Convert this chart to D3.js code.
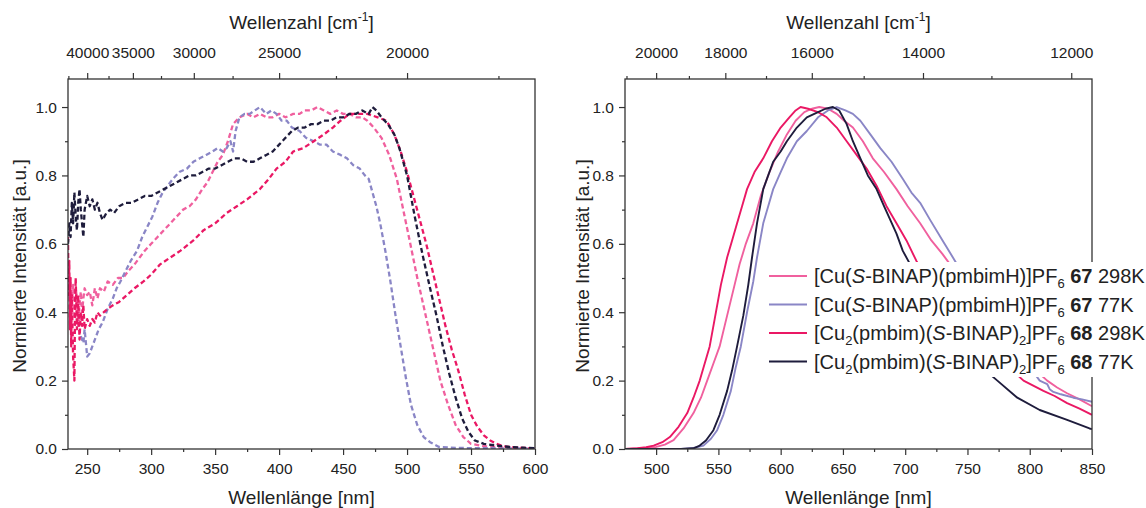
<!DOCTYPE html>
<html><head><meta charset="utf-8">
<script src="https://cdn.jsdelivr.net/npm/d3@7"></script>
<style>
body{margin:0;background:#fff}
svg text{font-family:"Liberation Sans",Arial,Helvetica,sans-serif;fill:#222}
</style></head>
<body><svg id="c" width="1146" height="508"></svg>
<script>
// ---------- DATA ----------
const seriesNames = ["67 298K","67 77K","68 298K","68 77K"];
const seriesColors = ["#f0609e","#8a86c6","#ea1864","#1e1c3c"];

// Absorption / excitation (left panel, dashed): [wavelength nm, normalized intensity]
const abs67rt = [[238,0.42],[239,0.48],[240,0.38],[241,0.47],[242,0.44],[243,0.36],[244,0.42],[245,0.46],[246,0.40],[247,0.44],[248,0.47],[250,0.45],[252,0.46],[254,0.42],[256,0.47],[258,0.44],[260,0.47],[263,0.46],[266,0.49],[270,0.48],[274,0.50],[278,0.50],[282,0.52],[287,0.54],[291,0.56],[295,0.58],[300,0.60],[305,0.62],[310,0.64],[315,0.66],[320,0.68],[325,0.70],[330,0.71],[335,0.73],[340,0.76],[344,0.78],[348,0.81],[352,0.84],[356,0.86],[360,0.90],[364,0.95],[369,0.97],[375,0.98],[380,0.97],[385,0.98],[390,0.97],[395,0.97],[400,0.98],[405,0.97],[411,0.98],[416,0.98],[420,0.99],[425,0.99],[430,1.0],[435,0.99],[440,0.98],[445,0.99],[450,0.98],[455,0.98],[460,0.97],[465,0.97],[469,0.96],[474,0.94],[480,0.91],[486,0.86],[492,0.79],[497,0.70],[502,0.61],[508,0.50],[514,0.40],[520,0.30],[526,0.20],[532,0.13],[538,0.07],[544,0.035],[550,0.015],[560,0.008],[580,0.004],[600,0.002]];
const abs67lt = [[245,0.33],[247,0.31],[248,0.35],[250,0.27],[252,0.28],[254,0.30],[256,0.32],[259,0.35],[262,0.37],[266,0.41],[270,0.44],[273,0.47],[276,0.49],[280,0.52],[284,0.55],[289,0.58],[293,0.62],[297,0.65],[301,0.68],[305,0.72],[309,0.75],[313,0.77],[317,0.79],[322,0.81],[328,0.82],[333,0.84],[338,0.85],[343,0.86],[348,0.87],[352,0.88],[356,0.87],[359,0.88],[362,0.90],[364,0.87],[366,0.93],[369,0.97],[373,0.98],[377,0.98],[381,0.99],[385,1.0],[390,0.98],[394,0.99],[398,0.98],[402,0.96],[406,0.96],[410,0.94],[416,0.93],[421,0.91],[427,0.90],[432,0.89],[437,0.89],[442,0.87],[448,0.86],[453,0.85],[458,0.83],[463,0.82],[467,0.80],[470,0.79],[473,0.75],[476,0.71],[479,0.66],[483,0.58],[487,0.49],[491,0.39],[495,0.30],[499,0.21],[503,0.13],[508,0.07],[513,0.035],[518,0.02],[525,0.006],[540,0.003],[600,0.001]];
const abs68rt = [[235,0.62],[235.5,0.45],[236,0.55],[236.5,0.35],[237,0.50],[237.5,0.30],[238,0.45],[239,0.27],[240,0.20],[240.5,0.42],[241,0.50],[242,0.35],[243,0.45],[244,0.32],[245,0.40],[246,0.36],[247,0.42],[248,0.35],[250,0.38],[252,0.36],[254,0.38],[256,0.37],[258,0.40],[260,0.39],[263,0.40],[266,0.41],[270,0.42],[275,0.43],[281,0.45],[287,0.47],[294,0.49],[300,0.51],[307,0.54],[315,0.56],[323,0.58],[333,0.61],[341,0.64],[350,0.66],[359,0.69],[367,0.71],[375,0.73],[385,0.76],[392,0.79],[398,0.82],[405,0.84],[411,0.87],[419,0.88],[427,0.90],[435,0.92],[442,0.94],[448,0.96],[455,0.98],[462,0.98],[469,0.98],[477,0.97],[484,0.96],[490,0.92],[495,0.87],[500,0.81],[505,0.74],[510,0.67],[515,0.60],[520,0.52],[525,0.44],[530,0.36],[535,0.29],[540,0.23],[545,0.16],[550,0.10],[555,0.065],[560,0.04],[565,0.025],[570,0.015],[575,0.008],[585,0.004],[600,0.002]];
const abs68lt = [[235,0.60],[236,0.66],[237,0.62],[238,0.72],[239,0.66],[240,0.75],[241,0.68],[242,0.64],[243,0.72],[244,0.76],[245,0.70],[246,0.66],[247,0.62],[248,0.70],[250,0.74],[252,0.71],[254,0.73],[256,0.70],[258,0.72],[260,0.69],[262,0.67],[265,0.69],[268,0.70],[271,0.69],[275,0.71],[280,0.72],[285,0.72],[290,0.73],[295,0.74],[300,0.74],[305,0.75],[310,0.76],[315,0.77],[320,0.78],[325,0.79],[330,0.80],[335,0.80],[340,0.81],[345,0.82],[350,0.82],[355,0.83],[360,0.84],[365,0.85],[370,0.85],[375,0.84],[380,0.84],[385,0.85],[390,0.86],[395,0.87],[400,0.89],[405,0.91],[410,0.93],[415,0.94],[420,0.94],[425,0.95],[430,0.95],[435,0.96],[440,0.96],[445,0.97],[450,0.97],[455,0.98],[460,0.98],[465,0.99],[470,0.98],[473,1.0],[476,0.99],[480,0.97],[485,0.95],[490,0.92],[494,0.88],[500,0.80],[506,0.68],[512,0.57],[518,0.47],[523,0.39],[528,0.30],[533,0.22],[538,0.15],[543,0.09],[548,0.05],[553,0.025],[560,0.015],[570,0.01],[580,0.006],[590,0.004],[600,0.002]];

// Emission (right panel, solid)
const em67rt = [[475,0],[490,0.002],[500,0.006],[507,0.013],[514,0.026],[522,0.06],[530,0.105],[536,0.15],[541,0.2],[546,0.25],[551,0.3],[555,0.36],[559,0.42],[563,0.48],[567,0.54],[572,0.60],[578,0.66],[584,0.74],[591,0.81],[598,0.87],[605,0.92],[612,0.96],[619,0.985],[625,0.995],[631,1.0],[638,0.995],[645,0.98],[651,0.96],[658,0.94],[666,0.90],[674,0.85],[683,0.81],[693,0.76],[702,0.71],[712,0.66],[721,0.61],[730,0.57],[740,0.52],[750,0.47],[760,0.42],[770,0.37],[780,0.32],[790,0.28],[802,0.24],[814,0.2],[822,0.18],[830,0.163],[840,0.145],[850,0.125]];
const em67lt = [[475,0],[520,0],[530,0.003],[538,0.01],[544,0.03],[549,0.055],[554,0.1],[560,0.17],[564,0.24],[568,0.3],[573,0.4],[578,0.49],[581,0.56],[586,0.66],[590,0.71],[594,0.76],[600,0.81],[605,0.85],[613,0.90],[621,0.93],[630,0.97],[638,0.99],[645,1.0],[652,0.99],[658,0.98],[664,0.96],[672,0.92],[680,0.88],[689,0.84],[698,0.79],[705,0.75],[712,0.72],[720,0.67],[730,0.61],[740,0.55],[750,0.49],[760,0.44],[770,0.39],[780,0.34],[790,0.29],[800,0.24],[808,0.20],[814,0.19],[816,0.175],[819,0.167],[825,0.16],[835,0.15],[842,0.145],[850,0.138]];
const em68rt = [[475,0],[485,0.002],[492,0.005],[498,0.01],[505,0.02],[511,0.035],[518,0.065],[525,0.105],[530,0.15],[535,0.2],[539,0.25],[543,0.3],[547,0.38],[552,0.48],[557,0.56],[561,0.61],[565,0.66],[569,0.71],[573,0.76],[579,0.81],[586,0.85],[593,0.90],[600,0.94],[607,0.97],[612,0.99],[616,1.0],[622,0.995],[630,0.985],[637,0.97],[645,0.94],[653,0.90],[661,0.86],[669,0.82],[677,0.77],[685,0.71],[693,0.66],[701,0.61],[709,0.55],[720,0.49],[735,0.42],[750,0.36],[765,0.30],[780,0.25],[795,0.20],[811,0.17],[820,0.155],[830,0.134],[840,0.118],[850,0.10]];
const em68lt = [[475,0],[520,0],[530,0.002],[535,0.01],[540,0.025],[546,0.055],[551,0.1],[557,0.17],[561,0.23],[565,0.3],[570,0.39],[574,0.48],[577,0.56],[581,0.66],[586,0.76],[590,0.8],[594,0.84],[600,0.87],[605,0.9],[613,0.94],[621,0.97],[630,0.985],[636,0.995],[642,1.0],[647,0.99],[653,0.95],[658,0.9],[664,0.85],[670,0.8],[677,0.76],[683,0.71],[688,0.67],[693,0.63],[698,0.58],[704,0.54],[712,0.49],[722,0.44],[734,0.37],[746,0.31],[758,0.25],[774,0.2],[790,0.15],[808,0.114],[830,0.085],[848,0.06],[850,0.058]];

// Ticks
const yMajor = [0,0.2,0.4,0.6,0.8,1.0];
const yMinor = [0.1,0.3,0.5,0.7,0.9];
const leftWlMajor = [250,300,350,400,450,500,550,600];
const leftWlMinor = [275,325,375,425,475,525,575];
const leftWnMajor = [40000,35000,30000,25000,20000];
const leftWnMinor = [42500,37500,32500,27500,22500,17500];
const rightWlMajor = [500,550,600,650,700,750,800,850];
const rightWlMinor = [525,575,625,675,725,775,825];
const rightWnMajor = [20000,18000,16000,14000,12000];
const rightWnMinor = [21000,19000,17000,15000,13000];

// ---------- DRAW ----------
const svg = d3.select("#c");
const plotTop = 79, plotBottom = 449;
const y = d3.scaleLinear().domain([0,1.082]).range([plotBottom, plotTop]);
const axisColor = "#333";

function styleAxis(g){
  g.selectAll("path.domain").remove();
  g.selectAll("line").attr("stroke", axisColor).attr("stroke-width", 1.2);
  g.selectAll("text").attr("font-size", 15.5).attr("fill","#222");
}

function panel(opt){
  const x = d3.scaleLinear().domain(opt.domain).range([opt.x0, opt.x1]);
  const g = svg.append("g");
  const clipId = "clip" + opt.id;
  svg.append("clipPath").attr("id", clipId).append("rect")
    .attr("x", opt.x0).attr("y", plotTop).attr("width", opt.x1-opt.x0).attr("height", plotBottom-plotTop);

  const line = d3.line().x(d=>x(d[0])).y(d=>y(d[1]));
  const lg = g.append("g").attr("clip-path", `url(#${clipId})`);
  opt.series.forEach((s,i)=>{
    lg.append("path").attr("d", line(s)).attr("fill","none")
      .attr("stroke", seriesColors[i]).attr("stroke-width", opt.dashed ? 2.3 : 1.9)
      .attr("stroke-dasharray", opt.dashed ? "5,3" : null)
      .attr("stroke-linejoin","round");
  });

  const bMaj = g.append("g").attr("transform",`translate(0,${plotBottom})`)
    .call(d3.axisBottom(x).tickValues(opt.wlMajor).tickSize(6).tickPadding(8).tickFormat(d3.format("d")));
  styleAxis(bMaj);
  const bMin = g.append("g").attr("transform",`translate(0,${plotBottom})`)
    .call(d3.axisBottom(x).tickValues(opt.wlMinor).tickSize(3).tickFormat(""));
  styleAxis(bMin);
  const tMaj = g.append("g").attr("transform",`translate(0,${plotTop})`)
    .call(d3.axisTop(x).tickValues(opt.wnMajor.map(w=>1e7/w)).tickSize(6).tickPadding(15)
      .tickFormat(d=>String(Math.round(1e7/d))));
  styleAxis(tMaj);
  const tMin = g.append("g").attr("transform",`translate(0,${plotTop})`)
    .call(d3.axisTop(x).tickValues(opt.wnMinor.map(w=>1e7/w).filter(v=>v>=opt.domain[0]&&v<=opt.domain[1])).tickSize(3).tickFormat(""));
  styleAxis(tMin);
  const lMaj = g.append("g").attr("transform",`translate(${opt.x0},0)`)
    .call(d3.axisLeft(y).tickValues(yMajor).tickSize(6).tickPadding(5).tickFormat(d3.format(".1f")));
  styleAxis(lMaj);
  const lMin = g.append("g").attr("transform",`translate(${opt.x0},0)`)
    .call(d3.axisLeft(y).tickValues(yMinor).tickSize(3).tickFormat(""));
  styleAxis(lMin);

  g.append("rect").attr("x", opt.x0).attr("y", plotTop).attr("width", opt.x1-opt.x0).attr("height", plotBottom-plotTop)
    .attr("fill","none").attr("stroke", axisColor).attr("stroke-width", 1.3);

  const cx = (opt.x0+opt.x1)/2;
  const tt = g.append("text").attr("x", cx).attr("y", 29).attr("text-anchor","middle").attr("font-size",19);
  tt.append("tspan").text("Wellenzahl [cm");
  tt.append("tspan").attr("font-size",12).attr("dy",-8).text("-1");
  tt.append("tspan").attr("dy",8).text("]");
  g.append("text").attr("x", cx).attr("y", 504).attr("text-anchor","middle").attr("font-size",19).text("Wellenlänge [nm]");
  g.append("text").attr("transform",`translate(${opt.ytx},${(plotTop+plotBottom)/2 + 2}) rotate(-90)`)
    .attr("text-anchor","middle").attr("font-size",19).text("Normierte Intensität [a.u.]");
  return {g, x};
}

panel({id:"L", domain:[235,600], x0:68, x1:535, dashed:true, ytx:26,
  series:[abs67rt, abs67lt, abs68rt, abs68lt],
  wlMajor:leftWlMajor, wlMinor:leftWlMinor, wnMajor:leftWnMajor, wnMinor:leftWnMinor});
panel({id:"R", domain:[475,850], x0:625, x1:1092, dashed:false, ytx:589,
  series:[em67rt, em67lt, em68rt, em68lt],
  wlMajor:rightWlMajor, wlMinor:rightWlMinor, wnMajor:rightWnMajor, wnMinor:rightWnMinor});

// ---------- LEGEND ----------
const legendLabels = [
  [["[Cu(",""],["S","i"],["-BINAP)(pmbimH)]PF",""],["6","sub"],[" ",""],["67","b"],[" 298K",""]],
  [["[Cu(",""],["S","i"],["-BINAP)(pmbimH)]PF",""],["6","sub"],[" ",""],["67","b"],[" 77K",""]],
  [["[Cu",""],["2","sub"],["(pmbim)(",""],["S","i"],["-BINAP)",""],["2","sub"],["]PF",""],["6","sub"],[" ",""],["68","b"],[" 298K",""]],
  [["[Cu",""],["2","sub"],["(pmbim)(",""],["S","i"],["-BINAP)",""],["2","sub"],["]PF",""],["6","sub"],[" ",""],["68","b"],[" 77K",""]]
];
const leg = svg.append("g");
leg.append("rect").attr("x",764).attr("y",262).attr("width",382).attr("height",115).attr("fill","#fff");
const rowY = [276, 304.5, 333, 361.5];
legendLabels.forEach((segs,i)=>{
  const yy = rowY[i];
  leg.append("line").attr("x1",769).attr("x2",807).attr("y1",yy).attr("y2",yy)
    .attr("stroke",seriesColors[i]).attr("stroke-width",2);
  const t = leg.append("text").attr("x",814).attr("y",yy+7).attr("font-size",20);
  let shifted = 0;
  segs.forEach(([txt,st])=>{
    const sp = t.append("tspan").text(txt);
    if(st==="sub"){ sp.attr("font-size",13).attr("dy",5-shifted); shifted=5; }
    else { if(shifted){ sp.attr("dy",-shifted); shifted=0; } }
    if(st==="i") sp.attr("font-style","italic");
    if(st==="b") sp.attr("font-weight","bold");
  });
});
</script></body></html>
